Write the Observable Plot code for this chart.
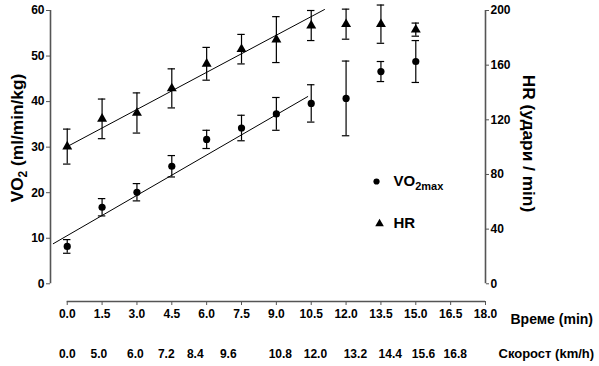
<!DOCTYPE html>
<html><head><meta charset="utf-8">
<script src="https://cdn.jsdelivr.net/npm/d3@7"></script>
<script src="https://cdn.jsdelivr.net/npm/@observablehq/plot@0.6"></script>
<style>
body{margin:0;background:#fff}
svg{font-family:"Liberation Sans",Arial,sans-serif;}
</style>
</head><body><div id="chart"></div>
<script>
// ---- data ----
const timeTicks = [0, 1.5, 3, 4.5, 6, 7.5, 9, 10.5, 12, 13.5, 15, 16.5, 18];
const vo2Ticks = [0, 10, 20, 30, 40, 50, 60];
const hrTicks = [0, 40, 80, 120, 160, 200];
const speedLabels = ["0.0", "5.0", "6.0", "7.2", "8.4", "9.6", "10.8", "12.0", "13.2", "14.4", "15.6", "16.8"];
const speedAt = [0, 1.36, 2.93, 4.26, 5.51, 6.93, 9.17, 10.68, 12.4, 13.9, 15.33, 16.7];
const time = [0, 1.5, 3, 4.5, 6, 7.5, 9, 10.5, 12, 13.5, 15];
const vo2 = [8.2, 16.8, 20.1, 25.8, 31.7, 34.2, 37.3, 39.6, 40.7, 46.6, 48.8];
const vo2Err = [1.5, 1.9, 1.9, 2.35, 2.0, 2.8, 3.6, 4.1, 8.2, 2.2, 4.6];
const hr = [100.4, 120.7, 125, 143, 161, 171.7, 178.7, 189, 190, 190, 186];
const hrErr = [12.8, 14.5, 14.7, 14.3, 12, 10.8, 16.8, 11, 11, 14, 4.8];
const vo2FitT = [-0.6, 10.35];
const vo2FitV = [8.8, 41.1];
const hrFitT = [0, 11.07];
const hrFitV = [100.4, 200.7];

// ---- layout ----
const HR_PER_VO2 = 200 / 60;
const X0 = -0.72, Y0 = -3.89;
const cap = 0.16;
const hrY = h => h / HR_PER_VO2;
const rows = time.map((t, i) => ({t, vo2: vo2[i], ve: vo2Err[i], hr: hr[i], he: hrErr[i]}));
const vo2Fit = vo2FitT.map((t, i) => ({t, v: vo2FitV[i]}));
const hrFit = hrFitT.map((t, i) => ({t, v: hrFitV[i]}));
const speeds = speedLabels.map((s, i) => ({s, t: speedAt[i]}));
const axisStroke = "#555";

const chart = Plot.plot({
  width: 599, height: 366,
  marginLeft: 50, marginRight: 114, marginTop: 10, marginBottom: 65,
  x: {domain: [X0, 18]},
  y: {domain: [Y0, 60]},
  style: {fontFamily: '"Liberation Sans", Arial, sans-serif', fontWeight: "bold", background: "#fff"},
  marks: [
    // axis lines
    Plot.ruleX([X0], {y1: 0, y2: 60, stroke: axisStroke, strokeWidth: 1.6}),
    Plot.ruleX([18], {y1: 0, y2: 60, stroke: axisStroke, strokeWidth: 1.6}),
    Plot.ruleY([Y0], {x1: 0, x2: 18, stroke: axisStroke, strokeWidth: 1.6}),
    Plot.axisY(vo2Ticks, {anchor: "left", tickSize: 4, tickPadding: 2, fontSize: 12, fontWeight: "bold", stroke: axisStroke, fill: "black", label: null}),
    Plot.axisY(hrTicks.map(hrY), {anchor: "right", tickSize: 3, tickPadding: 2, fontSize: 12, fontWeight: "bold", stroke: axisStroke, fill: "black", tickFormat: d => Math.round(d * HR_PER_VO2), label: null}),
    Plot.axisX(timeTicks, {anchor: "bottom", tickSize: 4, tickPadding: 4, fontSize: 12, fontWeight: "bold", stroke: axisStroke, fill: "black", tickFormat: d => d.toFixed(1), label: null}),
    // speed row
    Plot.text(speeds, {x: "t", y: () => Y0, dy: 52.5, text: "s", fontSize: 12, fontWeight: "bold", letterSpacing: -0.4, lineAnchor: "middle", fill: "black"}),
    // axis titles
    Plot.text(["VO2 (ml/min/kg)"], {frameAnchor: "left", y: () => 32, dx: -33, rotate: -90, textAnchor: "middle", lineAnchor: "middle", fontSize: 17.3, fontWeight: "bold", fill: "black"}),
    Plot.text(["HR (удари / min)"], {frameAnchor: "right", y: () => 30.8, dx: 43, rotate: 90, textAnchor: "middle", lineAnchor: "middle", fontSize: 17.3, fontWeight: "bold", fill: "black"}),
    Plot.text(["Време (min)"], {x: () => 18, y: () => Y0, dx: 25, dy: 18, textAnchor: "start", lineAnchor: "middle", fontSize: 14, fontWeight: "bold", fill: "black"}),
    Plot.text(["Скорост (km/h)"], {x: () => 18, y: () => Y0, dx: 13, dy: 52, textAnchor: "start", lineAnchor: "middle", fontSize: 13, fontWeight: "bold", letterSpacing: -0.3, fill: "black"}),
    // regression lines
    Plot.line(vo2Fit, {x: "t", y: "v", stroke: "black", strokeWidth: 1}),
    Plot.line(hrFit, {x: "t", y: d => hrY(d.v), stroke: "black", strokeWidth: 1}),
    // VO2 error bars
    Plot.ruleX(rows, {x: "t", y1: d => d.vo2 - d.ve, y2: d => d.vo2 + d.ve, stroke: "black", strokeWidth: 1.2}),
    Plot.ruleY(rows, {y: d => d.vo2 + d.ve, x1: d => d.t - cap, x2: d => d.t + cap, stroke: "black", strokeWidth: 1.2}),
    Plot.ruleY(rows, {y: d => d.vo2 - d.ve, x1: d => d.t - cap, x2: d => d.t + cap, stroke: "black", strokeWidth: 1.2}),
    // HR error bars
    Plot.ruleX(rows, {x: "t", y1: d => hrY(d.hr - d.he), y2: d => hrY(d.hr + d.he), stroke: "black", strokeWidth: 1.2}),
    Plot.ruleY(rows, {y: d => hrY(d.hr + d.he), x1: d => d.t - cap, x2: d => d.t + cap, stroke: "black", strokeWidth: 1.2}),
    Plot.ruleY(rows, {y: d => hrY(d.hr - d.he), x1: d => d.t - cap, x2: d => d.t + cap, stroke: "black", strokeWidth: 1.2}),
    // points
    Plot.dot(rows, {x: "t", y: "vo2", r: 3.6, fill: "black", stroke: "none", symbol: "circle"}),
    Plot.dot(rows, {x: "t", y: d => hrY(d.hr), r: 3.7, fill: "black", stroke: "none", symbol: "triangle"}),
    // legend
    Plot.dot([0], {x: () => 13.31, y: () => 22.46, r: 3.1, fill: "black", stroke: "none", symbol: "circle"}),
    Plot.dot([0], {x: () => 13.44, y: () => 13.2, r: 3.2, fill: "black", stroke: "none", symbol: "triangle"}),
    Plot.text(["VO2max"], {x: () => 14.04, y: () => 22.46, textAnchor: "start", lineAnchor: "middle", fontSize: 15, fontWeight: "bold", fill: "black"}),
    Plot.text(["HR"], {x: () => 14.04, y: () => 13.2, textAnchor: "start", lineAnchor: "middle", fontSize: 15, fontWeight: "bold", fill: "black"})
  ]
});

// subscripts
d3.select(chart).selectAll("text").each(function () {
  const t = this.textContent;
  const sel = d3.select(this);
  if (t === "VO2 (ml/min/kg)") {
    this.textContent = "";
    sel.append("tspan").text("VO");
    sel.append("tspan").attr("font-size", 12).attr("dy", 4).text("2");
    sel.append("tspan").attr("dy", -4).text(" (ml/min/kg)");
  } else if (t === "VO2max") {
    this.textContent = "";
    sel.append("tspan").text("VO");
    sel.append("tspan").attr("font-size", 11).attr("dy", 4).text("2max");
  }
});

document.getElementById("chart").appendChild(chart);
</script>
</body></html>
